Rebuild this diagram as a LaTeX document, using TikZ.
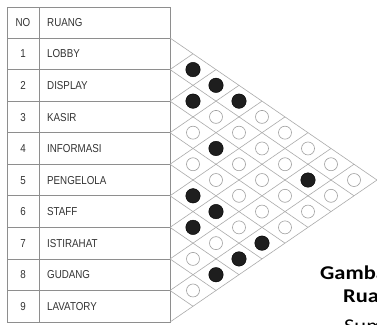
\documentclass[tikz,border=0pt]{standalone}
\usepackage{fontspec}
\newfontfamily\tabfont[FakeStretch=0.85]{Liberation Sans}
\newfontfamily\capfont[FakeStretch=1.15]{Carlito}
\definecolor{gridgray}{HTML}{ABABAB}
\definecolor{tablegray}{HTML}{8E8E8E}
\definecolor{inkgray}{HTML}{333333}
\definecolor{dotblack}{HTML}{1E1E1E}

\begin{document}
\begin{tikzpicture}[
		x=1pt, y=-1pt,
		label/.style={font=\tabfont\fontsize{11.5}{12}\selectfont, text=inkgray, inner sep=0pt, text height=8.2pt, text depth=0pt},
		frame/.style={draw=tablegray, line width=0.7pt},
		grid/.style={draw=gridgray, line width=0.6pt},
		emptydot/.style={circle, draw=gray!75, line width=0.6pt, minimum size=13pt, inner sep=0pt},
		fulldot/.style={circle, draw=black, fill=dotblack, minimum size=14.5pt, inner sep=0pt},
		caption/.style={font=\capfont\fontsize{19.5}{21}\selectfont, anchor=base west, inner sep=0pt}
	]
	\useasboundingbox (0,0) rectangle (377,324);
	\fill[white] (0,0) rectangle (377,324);

	% Table
	\draw[frame] (7,7) rectangle (170,322);
	\draw[frame] (39,7) -- (39,322);
	\foreach \k in {0,...,8}
		\draw[frame] (7,{38+\k*31.56}) -- (170,{38+\k*31.56});

	% Header
	\node[label] (no) at (23,22.5) {NO};
	\node[label, anchor=west] (ruang) at (47,22.5) {RUANG};

	% Rooms
	\foreach \name [count=\k] in {LOBBY,DISPLAY,KASIR,INFORMASI,PENGELOLA,STAFF,ISTIRAHAT,GUDANG,LAVATORY}{
		\node[label] (no\k) at (23,{38+(\k-0.5)*31.56}) {\k};
		\node[label, anchor=west] (room\k) at (47,{38+(\k-0.5)*31.56}) {\name};
	}

	% Matrix grid
	\foreach \k in {0,...,9}{
		\draw[grid] (170,{38+\k*31.56}) -- ++({(9-\k)*23},{(9-\k)*15.78});
		\draw[grid] (170,{38+\k*31.56}) -- ++({\k*23},{-\k*15.78});
	}

	% Dots
	\foreach \i in {1,...,8}{
		\pgfmathtruncatemacro\jfirst{\i+1}
		\foreach \j in {\jfirst,...,9}
			\node[emptydot] (d\i-\j) at ({170+(\j-\i)*23},{38+(\i+\j-1)*15.78}) {};
	}
	\foreach \i/\j in {1/2,1/3,2/3,1/4,3/5,2/8,5/6,5/7,6/7,5/9,6/9,7/9}
		\node[fulldot] (f\i-\j) at (d\i-\j) {};

	% Caption (cut by the edge)
	\begin{scope}
		\clip (0,0) rectangle (377,324);
		\node[caption, font=\capfont\bfseries\fontsize{19.5}{21}\selectfont] (cap1) at (320,279) {Gambar};
		\node[caption, font=\capfont\bfseries\fontsize{19.5}{21}\selectfont] (cap2) at (343,302) {Ruang};
		\node[caption] (cap3) at (344,332) {Sumber};
	\end{scope}

\end{tikzpicture}
\end{document}
